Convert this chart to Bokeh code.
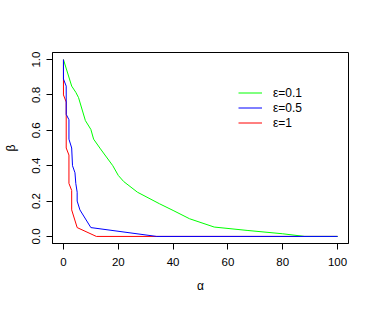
from bokeh.plotting import figure
from bokeh.models import Range1d, FixedTicker, NumeralTickFormatter, Legend, LegendItem
from bokeh.embed import file_html
from bokeh.resources import INLINE

# data (alpha vs beta)
eps01_x = [0, 3, 4.5, 5.5, 8, 10, 11, 13.5, 18, 20, 22, 27, 35, 40, 46, 55, 67, 80, 88, 100]
eps01_y = [1.0, 0.85, 0.815, 0.785, 0.655, 0.605, 0.55, 0.495, 0.40, 0.345, 0.31, 0.25, 0.185, 0.147, 0.10, 0.053, 0.034, 0.015, 0.0, 0.0]

eps05_x = [0, 0, 1, 1, 2, 2, 3, 3.3, 4.2, 4.5, 5, 5, 6, 10, 34, 100]
eps05_y = [1.0, 0.89, 0.85, 0.69, 0.66, 0.55, 0.50, 0.40, 0.36, 0.30, 0.25, 0.20, 0.15, 0.05, 0.0, 0.0]

eps1_x = [0, 0, 1, 1, 2, 2, 3, 3, 5, 12, 100]
eps1_y = [1.0, 0.80, 0.76, 0.50, 0.46, 0.30, 0.26, 0.15, 0.05, 0.0, 0.0]

x_ticks = [0, 20, 40, 60, 80, 100]
y_ticks = [0.0, 0.2, 0.4, 0.6, 0.8, 1.0]
labels = ["\u03b5=0.1", "\u03b5=0.5", "\u03b5=1"]

FONT = "Liberation Sans"

p = figure(width=370, height=305, output_backend="svg", toolbar_location=None,
           x_range=Range1d(-4, 104), y_range=Range1d(-0.04, 1.04),
           min_border_left=52, min_border_right=22, min_border_top=52, min_border_bottom=62)

p.background_fill_color = "white"
p.border_fill_color = "white"
p.outline_line_color = "black"
p.outline_line_width = 1
p.xgrid.visible = False
p.ygrid.visible = False

r_red = p.line(eps1_x, eps1_y, line_color="#FF0000", line_width=1)
r_green = p.line(eps01_x, eps01_y, line_color="#00FF00", line_width=1)
r_blue = p.line(eps05_x, eps05_y, line_color="#0000FF", line_width=1)

for ax in (p.xaxis[0], p.yaxis[0]):
    ax.axis_line_color = "black"
    ax.major_tick_line_color = "black"
    ax.major_tick_in = 0
    ax.major_tick_out = 6
    ax.minor_tick_line_color = None
    ax.major_label_text_font = FONT
    ax.major_label_text_font_size = "11.5px"
    ax.major_label_text_color = "black"
    ax.axis_label_text_font = FONT
    ax.axis_label_text_font_size = "12px"
    ax.axis_label_text_font_style = "normal"
    ax.axis_label_text_color = "black"

p.xaxis[0].ticker = FixedTicker(ticks=x_ticks)
p.yaxis[0].ticker = FixedTicker(ticks=y_ticks)
p.yaxis[0].formatter = NumeralTickFormatter(format="0.0")
p.yaxis[0].major_label_orientation = "vertical"
p.xaxis[0].major_label_standoff = 8
p.yaxis[0].major_label_standoff = 6
p.xaxis[0].axis_label = "\u03b1"
p.yaxis[0].axis_label = "\u03b2"
p.xaxis[0].axis_label_standoff = 10
p.yaxis[0].axis_label_standoff = 12

legend = Legend(items=[LegendItem(label=labels[0], renderers=[r_green]),
                       LegendItem(label=labels[1], renderers=[r_blue]),
                       LegendItem(label=labels[2], renderers=[r_red])],
                location=(186, 113), border_line_alpha=0, background_fill_alpha=0,
                padding=0, margin=0, spacing=0, glyph_width=24, glyph_height=15,
                label_height=15, label_standoff=11,
                label_text_font=FONT, label_text_font_size="12px",
                label_text_color="black")
p.add_layout(legend)

open("out.html", "w").write(file_html(p, INLINE))
